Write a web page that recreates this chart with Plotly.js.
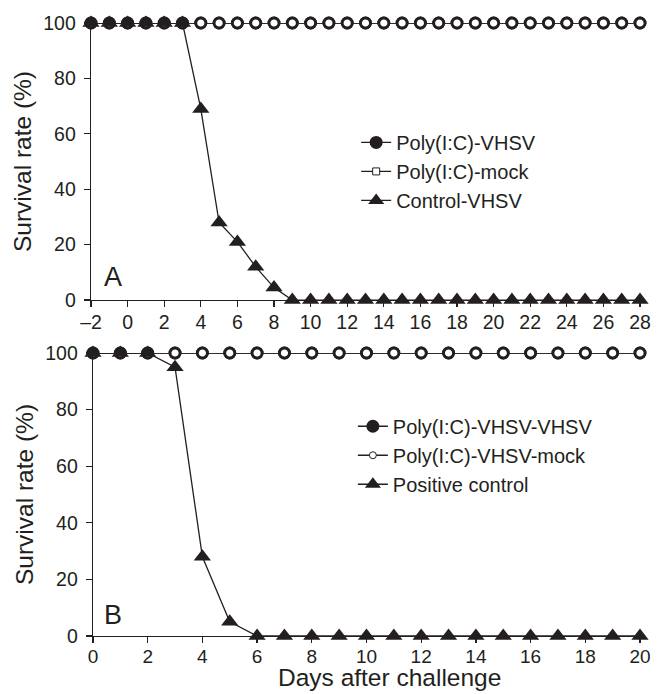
<!DOCTYPE html>
<html>
<head>
<meta charset="utf-8">
<script src="https://cdn.plot.ly/plotly-3.0.1.min.js"></script>
<style>html,body{margin:0;padding:0;background:#fff;}#chart{width:660px;height:694px;}</style>
</head>
<body>
<div id="chart"></div>
<script>
// ---- Panel A data ----
const daysA = [-2,-1,0,1,2,3,4,5,6,7,8,9,10,11,12,13,14,15,16,17,18,19,20,21,22,23,24,25,26,27,28];
const polyVHSV_A = [100,100,100,100,100,100,100,100,100,100,100,100,100,100,100,100,100,100,100,100,100,100,100,100,100,100,100,100,100,100,100];
const polyMock_A = [100,100,100,100,100,100,100,100,100,100,100,100,100,100,100,100,100,100,100,100,100,100,100,100,100,100,100,100,100,100,100];
const controlVHSV_A = [100,100,100,100,100,100,69,28,21,12,4.5,0,0,0,0,0,0,0,0,0,0,0,0,0,0,0,0,0,0,0,0];
const namesA = ["Poly(I:C)-VHSV","Poly(I:C)-mock","Control-VHSV"];
const ticksA = [-2,0,2,4,6,8,10,12,14,16,18,20,22,24,26,28];

// ---- Panel B data ----
const daysB = [0,1,2,3,4,5,6,7,8,9,10,11,12,13,14,15,16,17,18,19,20];
const polyVV_B = [100,100,100,100,100,100,100,100,100,100,100,100,100,100,100,100,100,100,100,100,100];
const polyVMock_B = [100,100,100,100,100,100,100,100,100,100,100,100,100,100,100,100,100,100,100,100,100];
const positive_B = [100,100,100,95,28,5,0,0,0,0,0,0,0,0,0,0,0,0,0,0,0];
const namesB = ["Poly(I:C)-VHSV-VHSV","Poly(I:C)-VHSV-mock","Positive control"];
const ticksB = [0,2,4,6,8,10,12,14,16,18,20];
const yTicks = [0,20,40,60,80,100];

const ink = '#231f20';
const fam = '"Liberation Sans", Arial, Helvetica, sans-serif';
const tickFont = {family:fam, size:19.5, color:ink};
const titleFont = {family:fam, size:24.5, color:ink};
const legendFont = {family:fam, size:20, color:ink};
const lineStyle = {color:ink, width:1.3};

function dataTrace(x,y,xa,ya,marker){
  return {x:x,y:y,xaxis:xa,yaxis:ya,type:'scatter',mode:'lines+markers',
    line:lineStyle,marker:marker,showlegend:false,cliponaxis:false,hoverinfo:'skip'};
}
function legendTrace(name,legend,marker){
  return {x:[null],y:[null],type:'scatter',mode:'lines+markers',name:name,legend:legend,
    line:lineStyle,marker:marker,showlegend:true,xaxis:'x',yaxis:'y'};
}
const filled = {symbol:'circle',size:13,color:ink,line:{width:0}};
const openBig = {symbol:'circle',size:10,color:'#fff',line:{color:ink,width:2.8}};
const tri = {symbol:'triangle-up',size:15,color:ink,line:{width:0}};

const traces = [
  dataTrace(daysA,polyVHSV_A,'x','y',filled),
  dataTrace(daysA,polyMock_A,'x','y',openBig),
  dataTrace(daysA,controlVHSV_A,'x','y',tri),
  dataTrace(daysB,polyVV_B,'x2','y2',filled),
  dataTrace(daysB,polyVMock_B,'x2','y2',openBig),
  dataTrace(daysB,positive_B,'x2','y2',tri),
  legendTrace(namesA[0],'legend',{symbol:'circle',size:13,color:ink}),
  legendTrace(namesA[1],'legend',{symbol:'square',size:7,color:'#fff',line:{color:ink,width:1}}),
  legendTrace(namesA[2],'legend',{symbol:'triangle-up',size:14,color:ink}),
  legendTrace(namesB[0],'legend2',{symbol:'circle',size:13,color:ink}),
  legendTrace(namesB[1],'legend2',{symbol:'circle',size:7,color:'#fff',line:{color:ink,width:1}}),
  legendTrace(namesB[2],'legend2',{symbol:'triangle-up',size:14,color:ink})
];

const axBase = {showline:true,linecolor:ink,linewidth:1.3,ticks:'outside',ticklen:6,tickwidth:1.3,tickcolor:ink,
  showgrid:false,zeroline:false,tickfont:tickFont,fixedrange:true};

const layout = {
  width:660,height:694,
  margin:{l:91,r:20,t:23,b:58},
  paper_bgcolor:'#fff',plot_bgcolor:'#fff',
  font:tickFont,
  xaxis:Object.assign({},axBase,{domain:[0,1],range:[-2,28],tickvals:ticksA,
    ticktext:ticksA.map(v=>v<0?'\u2013'+Math.abs(v):String(v)),anchor:'y',ticklabelstandoff:-2}),
  yaxis:Object.assign({},axBase,{domain:[0.548,1],range:[0,100],tickvals:yTicks,anchor:'x',ticklabelstandoff:4,
    title:{text:'Survival rate (%)',font:titleFont,standoff:4}}),
  xaxis2:Object.assign({},axBase,{domain:[0.0036,1],range:[0,20],tickvals:ticksB,anchor:'y2',ticklabelstandoff:-3,
    tickfont:{family:fam,size:19,color:ink}}),
  yaxis2:Object.assign({},axBase,{domain:[0,0.4617],range:[0,100],tickvals:yTicks,anchor:'x2',ticklabelstandoff:4,
    title:{text:'Survival rate (%)',font:titleFont,standoff:4}}),
  legend:{x:0.483,y:0.837,xanchor:'left',yanchor:'top',bgcolor:'rgba(0,0,0,0)',
    font:legendFont,itemwidth:30,tracegroupgap:0},
  legend2:{x:0.477,y:0.374,xanchor:'left',yanchor:'top',bgcolor:'rgba(0,0,0,0)',
    font:legendFont,itemwidth:30,tracegroupgap:0},
  annotations:[
    {text:'A',xref:'x',yref:'y',x:-0.8,y:8.3,xanchor:'center',yanchor:'middle',showarrow:false,
      font:{family:fam,size:27,color:ink}},
    {text:'B',xref:'x2',yref:'y2',x:0.73,y:7.3,xanchor:'center',yanchor:'middle',showarrow:false,
      font:{family:fam,size:27,color:ink}},
    {text:'Days after challenge',xref:'paper',yref:'paper',x:0.543,y:0,yshift:-56,xanchor:'center',yanchor:'bottom',
      showarrow:false,borderpad:0,font:titleFont}
  ]
};

Plotly.newPlot('chart',traces,layout,{staticPlot:true,displayModeBar:false});
</script>
</body>
</html>
